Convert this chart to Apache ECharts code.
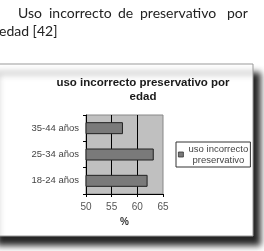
<!DOCTYPE html>
<html><head><meta charset="utf-8">
<script src="https://cdn.jsdelivr.net/npm/echarts@6/dist/echarts.min.js"></script>
<style>html,body{margin:0;padding:0;background:#fff;}#c{width:264px;height:251px;}</style>
</head><body><div id="c"></div>
<script>
var categories = ['18-24 años', '25-34 años', '35-44 años'];
var values = [62.0, 63.2, 57.2];
var xTicks = [50, 55, 60, 65];
var seriesName = 'uso incorrecto preservativo';
var chartTitle = 'uso incorrecto preservativo por\nedad';
var xName = '%';
var headWords = ['Uso', 'incorrecto', 'de', 'preservativo', 'por'];
var headWordX = [18, 49, 118, 140, 227];
var headLine2 = 'edad [42]';

var chart = echarts.init(document.getElementById('c'), null, {renderer: 'canvas'});
var headFont = {fontFamily: 'Lato', fontSize: 14, fill: '#222'};
var graphics = [{
  type: 'rect', z: -10, silent: true,
  shape: {x: -10, y: 64, width: 263, height: 172},
  style: {fill: '#fff', stroke: '#999', lineWidth: 1, shadowBlur: 6, shadowOffsetX: 7, shadowOffsetY: 9, shadowColor: 'rgba(0,0,0,0.85)'}
}];
headWords.forEach(function (w, i) {
  graphics.push({type: 'text', left: headWordX[i], top: 6, style: Object.assign({text: w}, headFont)});
});
graphics.push({type: 'text', left: -1, top: 24, style: Object.assign({text: headLine2}, headFont)});

chart.setOption({
  animation: false,
  backgroundColor: '#fff',
  graphic: graphics,
  title: {
    text: chartTitle, left: 138, top: 71, textAlign: 'center',
    textStyle: {fontFamily: 'Liberation Sans', fontWeight: 'bold', fontSize: 11.5, lineHeight: 14, color: '#1a1a1a', align: 'center'}
  },
  legend: {
    left: 176, top: 142, orient: 'vertical',
    borderColor: '#333', borderWidth: 1, padding: [2, 2, 2, 2],
    itemWidth: 5, itemHeight: 5, itemGap: 2,
    icon: 'rect',
    itemStyle: {color: '#7a7a7a', borderColor: '#333', borderWidth: 0.8},
    formatter: function () { return '{a|uso incorrecto}\n{a|preservativo}'; },
    textStyle: {rich: {a: {fontFamily: 'Liberation Sans', fontSize: 9.5, lineHeight: 11, color: '#444', width: 60, align: 'center'}}},
    data: [seriesName]
  },
  grid: {left: 86, right: 101, top: 115, bottom: 57, show: true, backgroundColor: '#c0c0c0', borderColor: '#888', borderWidth: 1},
  xAxis: {
    type: 'value', min: xTicks[0], max: xTicks[xTicks.length - 1], interval: 5,
    name: xName, nameLocation: 'middle', nameGap: 23,
    nameTextStyle: {fontFamily: 'Liberation Sans', fontWeight: 'bold', fontSize: 10, color: '#333'},
    axisLine: {show: true, lineStyle: {color: '#000', width: 1}},
    axisTick: {show: true, length: 3, lineStyle: {color: '#000'}},
    axisLabel: {fontFamily: 'Liberation Sans', fontSize: 10, color: '#555', margin: 8},
    splitLine: {show: true, showMinLine: false, showMaxLine: false, lineStyle: {color: '#000', width: 1}}
  },
  yAxis: {
    type: 'category', data: categories,
    axisLine: {show: true, lineStyle: {color: '#000', width: 1}},
    axisTick: {show: true, length: 3, lineStyle: {color: '#000'}},
    axisLabel: {fontFamily: 'Liberation Sans', fontSize: 9.5, color: '#444', margin: 7},
    splitLine: {show: false}
  },
  series: [{
    name: seriesName, type: 'bar', data: values, barWidth: 12,
    itemStyle: {color: '#7a7a7a', borderColor: '#222', borderWidth: 1}
  }]
});
</script></body></html>
